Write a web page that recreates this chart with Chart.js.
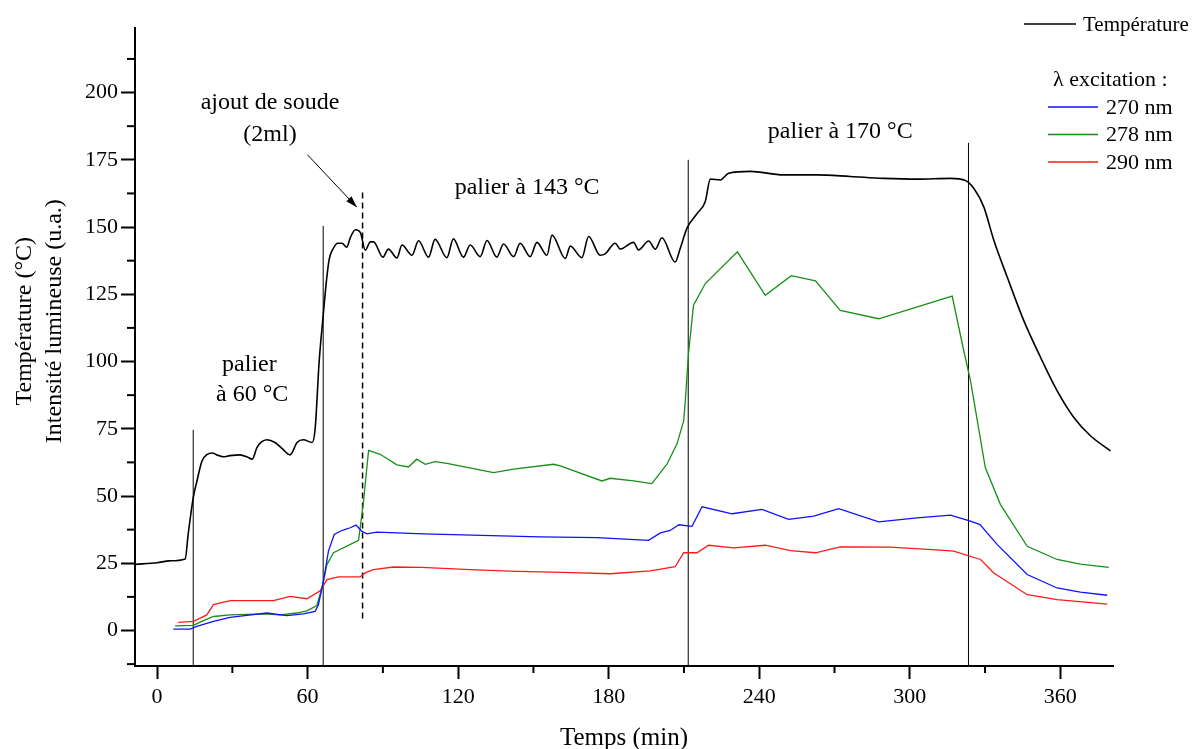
<!DOCTYPE html>
<html>
<head>
<meta charset="utf-8">
<script src="https://cdn.jsdelivr.net/npm/chart.js@4.4.1/dist/chart.umd.min.js"></script>
<style>
  html, body { margin: 0; background: #fff; }
</style>
</head>
<body>
<canvas id="chart" width="1200" height="749"></canvas>
<script>
// ticks
const xMajor = [0, 60, 120, 180, 240, 300, 360];
const xMinor = [30, 90, 150, 210, 270, 330];
const yMajor = [0, 25, 50, 75, 100, 125, 150, 175, 200];
const yMinor = [-12.5, 12.5, 37.5, 62.5, 87.5, 112.5, 137.5, 162.5, 187.5, 212.5];
const yTitle = ["Température (°C)", "Intensité lumineuse (u.a.)"];

// series: [time (min), value]
const temperature = [
  [-8.7, 24.6], [0, 25.2], [5, 25.9], [11.2, 26.6], [12.4, 35.8], [14.4, 49.3], [15.9, 55.6],
  [17.9, 63], [20, 65.5], [21.9, 66], [24, 65.2], [26.3, 64.6], [29, 65], [33, 65.3], [36, 64.5],
  [37.9, 63.7], [39.8, 68], [41.5, 70], [43.8, 70.9], [47, 69.9], [50, 67.5], [53, 65.3],
  [55.8, 69.9], [58.3, 70.9], [61.8, 69.9], [63, 75], [64.6, 100], [66.2, 117], [67.5, 130],
  [68.6, 138], [70.2, 142], [72, 144], [73.7, 144], [75.6, 142.5], [77, 146], [79, 149],
  [81, 148], [83, 141.4], [85, 144.5], [86.3, 144.5], [90, 138.8], [92.2, 141.8], [95.6, 138.5],
  [97.6, 143.3], [101.6, 139.5], [104.2, 144.9], [108.2, 138.8], [110.8, 145.4], [115.5, 138.6],
  [118.1, 145.6], [122.1, 138.8], [124.8, 143.3], [128.8, 139], [131.5, 145], [135.4, 138.8],
  [138.1, 143.7], [142.1, 139], [144.7, 144], [148.7, 139], [151.4, 144.3], [155.4, 139.5],
  [157.4, 147], [162.7, 138.3], [164.7, 142.9], [169.3, 138.6], [172, 146.5], [176.6, 139.5],
  [178.6, 140], [182.6, 144], [184.6, 141.8], [189.9, 144.3], [191.9, 141.5], [195.9, 144.8],
  [198.6, 141.8], [201.2, 146], [206.5, 137], [208.5, 142], [211.2, 149.6], [215.2, 155],
  [218.5, 159.5], [220.5, 167.8], [224.5, 167.5], [227.8, 170], [236.4, 170.7], [249.7, 169.4],
  [263, 169.4], [276.3, 168.8], [289.6, 168.1], [302.9, 167.8], [316.2, 168.1], [322.2, 167.3],
  [325.5, 164.4], [329.5, 157.5], [333.5, 145.1], [338.8, 131.5], [345.4, 115.3], [352.1, 101.6],
  [358.7, 89.2], [365.4, 79.2], [372, 72.4], [380, 66.8]
];
const nm270 = [
  [6.5, 0.5], [13.2, 0.5], [15.8, 1.5], [22.5, 3.4], [29.1, 4.9], [35.8, 5.6], [43.7, 6.5],
  [51.7, 5.5], [58.3, 6.2], [63, 7.1], [64.3, 9.6], [66.3, 18.3], [68.3, 29.5], [70.6, 35.7],
  [73, 36.9], [75, 37.6], [77, 38.2], [79.3, 39.2], [81.6, 36.9], [83.6, 35.9], [87.6, 36.6],
  [106.2, 35.9], [129.5, 35.4], [152.7, 34.8], [175.3, 34.5], [195.9, 33.5], [200.6, 36.3],
  [204.5, 37.2], [208, 39.3], [213.2, 38.7], [217.2, 46], [229.2, 43.4], [241.1, 45],
  [251.7, 41.3], [261.7, 42.5], [271.7, 45.3], [287.6, 40.4], [302.9, 41.9], [316.2, 42.9],
  [324.2, 40.7], [328, 39.4], [334.8, 32], [346.8, 20.8], [358.7, 15.8], [368, 14.3], [378.7, 13.1]
];
const nm278 = [
  [7.2, 1.7], [14.5, 1.9], [18, 3.5], [22.5, 5.2], [29.1, 5.8], [42.4, 6.2], [49, 5.8],
  [55.7, 6.5], [59.7, 7.3], [63.7, 9.3], [65.7, 15.8], [67.7, 24.5], [70.3, 28.9], [80.3, 33.5],
  [82.3, 48.1], [84.3, 67], [88.9, 65.5], [95.6, 61.6], [100.2, 60.8], [103.5, 63.7],
  [106.9, 61.8], [110.8, 62.8], [115.5, 62.1], [134.1, 58.7], [142.1, 60], [158, 61.8],
  [160.7, 61.2], [177.3, 55.6], [180.6, 56.6], [189.9, 55.6], [197.2, 54.6], [203.2, 61.8],
  [207.2, 69.3], [209.9, 78], [210.5, 85], [211.8, 102.9], [213.8, 120.9], [218.5, 129],
  [231.3, 140.8], [242.4, 124.6], [252.8, 131.9], [262.4, 130], [272.3, 119], [287.6, 115.9],
  [316.9, 124.3], [321.5, 104.1], [324.2, 92.9], [330.1, 60.6], [336.1, 46.9], [346.8, 31.3],
  [358.7, 26.4], [368, 24.7], [379.3, 23.5]
];
const nm290 = [
  [8.5, 3], [14.5, 3.4], [19.8, 5.8], [22.5, 9.6], [29.1, 11.1], [38.4, 11.1], [46.4, 11.1],
  [53, 12.7], [59.7, 11.8], [65, 14.8], [67.7, 18.9], [72.3, 19.9], [80.9, 19.9], [82.9, 21.4],
  [86.2, 22.6], [94.2, 23.6], [105.5, 23.5], [124.8, 22.6], [143.4, 22], [162, 21.6],
  [180.6, 21.1], [196.6, 22.2], [206.5, 23.7], [209.9, 28.9], [215.2, 28.9], [219.8, 31.7],
  [229.8, 30.7], [242.4, 31.7], [252.4, 29.7], [262.4, 28.9], [272.3, 31.1], [292.3, 31],
  [312.2, 29.9], [317.5, 29.5], [328.2, 26.4], [333.5, 21.4], [346.8, 13.3], [358.7, 11.5],
  [378.7, 9.8]
];

// vertical marker lines: [time, bottom, top]
const stepLines = [[14.4, -13.2, 74.6], [66.2, -13.2, 150.4], [211.7, -13.2, 175], [323.4, -13.2, 181.3]];
const sodaLine = [81.9, 4.5, 163.8];

const annotations = [
  { t: 45, v: 196.3, text: "ajout de soude" },
  { t: 45, v: 184.3, text: "(2ml)" },
  { t: 147.5, v: 164.6, text: "palier à 143 °C" },
  { t: 272.3, v: 185.4, text: "palier à 170 °C" },
  { t: 36.8, v: 98.8, text: "palier" },
  { t: 37.9, v: 87.8, text: "à 60 °C" }
];
const arrow = { from: [59.9, 176.9], to: [79.6, 157.4] };

const SERIF = "'Liberation Serif', 'Times New Roman', serif";
const toXY = (arr) => arr.map(([x, y]) => ({ x, y }));

const datasets = [
  { label: "Température", data: toXY(temperature), borderColor: "#000000", borderWidth: 1.6, cubicInterpolationMode: "monotone" },
  { label: "270 nm", data: toXY(nm270), borderColor: "#1010ff", borderWidth: 1.3 },
  { label: "278 nm", data: toXY(nm278), borderColor: "#178f17", borderWidth: 1.3 },
  { label: "290 nm", data: toXY(nm290), borderColor: "#ff1a1a", borderWidth: 1.3 }
];
stepLines.forEach(([t, lo, hi]) => {
  datasets.push({ label: "", data: [{ x: t, y: lo }, { x: t, y: hi }], borderColor: "#000", borderWidth: 1 });
});
datasets.push({ label: "", data: [{ x: sodaLine[0], y: sodaLine[1] }, { x: sodaLine[0], y: sodaLine[2] }],
  borderColor: "#000", borderWidth: 1.5, borderDash: [6, 4] });

const extras = {
  id: "extras",
  afterDraw(chart) {
    const { ctx, scales: { x, y } } = chart;
    ctx.save();
    // minor ticks
    ctx.strokeStyle = "#000";
    ctx.lineWidth = 2;
    xMinor.forEach((v) => {
      const px = x.getPixelForValue(v);
      ctx.beginPath(); ctx.moveTo(px, x.top); ctx.lineTo(px, x.top + 7); ctx.stroke();
    });
    yMinor.forEach((v) => {
      const py = y.getPixelForValue(v);
      ctx.beginPath(); ctx.moveTo(y.right, py); ctx.lineTo(y.right - 8, py); ctx.stroke();
    });
    // y axis title (two lines, centred a bit above the plot centre like the original)
    ctx.fillStyle = "#000";
    ctx.font = "24px " + SERIF;
    ctx.textAlign = "center";
    ctx.textBaseline = "middle";
    const cy = y.getPixelForValue(115);
    [25, 55].forEach((cx, i) => {
      ctx.save();
      ctx.translate(cx, cy);
      ctx.rotate(-Math.PI / 2);
      ctx.fillText(yTitle[i], 0, 0);
      ctx.restore();
    });
    // text annotations
    ctx.font = "24px " + SERIF;
    annotations.forEach((a) => ctx.fillText(a.text, x.getPixelForValue(a.t), y.getPixelForValue(a.v)));
    // arrow
    const x1 = x.getPixelForValue(arrow.from[0]), y1 = y.getPixelForValue(arrow.from[1]);
    const x2 = x.getPixelForValue(arrow.to[0]), y2 = y.getPixelForValue(arrow.to[1]);
    ctx.lineWidth = 1;
    ctx.beginPath(); ctx.moveTo(x1, y1); ctx.lineTo(x2, y2); ctx.stroke();
    const ang = Math.atan2(y2 - y1, x2 - x1);
    ctx.beginPath();
    ctx.moveTo(x2, y2);
    ctx.lineTo(x2 - 12 * Math.cos(ang - 0.3), y2 - 12 * Math.sin(ang - 0.3));
    ctx.lineTo(x2 - 12 * Math.cos(ang + 0.3), y2 - 12 * Math.sin(ang + 0.3));
    ctx.closePath(); ctx.fill();
    // legend
    const ds = chart.data.datasets;
    ctx.textAlign = "left";
    ctx.font = "21px " + SERIF;
    ctx.lineWidth = 1.3;
    ctx.strokeStyle = ds[0].borderColor;
    ctx.beginPath(); ctx.moveTo(1024, 24); ctx.lineTo(1076, 24); ctx.stroke();
    ctx.fillText(ds[0].label, 1083, 25);
    ctx.font = "22px " + SERIF;
    ctx.fillText("λ excitation :", 1053, 80);
    [1, 2, 3].forEach((i, k) => {
      const ly = 107 + k * 27.5;
      ctx.strokeStyle = ds[i].borderColor;
      ctx.beginPath(); ctx.moveTo(1048, ly); ctx.lineTo(1098, ly); ctx.stroke();
      ctx.fillText(ds[i].label, 1106, ly + 1);
    });
    ctx.restore();
  }
};

new Chart(document.getElementById("chart"), {
  type: "line",
  data: { datasets },
  plugins: [extras],
  options: {
    responsive: false,
    animation: false,
    events: [],
    elements: { point: { radius: 0 }, line: { tension: 0 } },
    layout: { padding: { top: 28, right: 87, left: 0, bottom: 0 } },
    plugins: { legend: { display: false }, tooltip: { enabled: false } },
    scales: {
      x: {
        type: "linear",
        min: -8.8,
        max: 381,
        afterBuildTicks: (s) => { s.ticks = xMajor.map((value) => ({ value })); },
        afterFit: (s) => { s.height = 83; },
        border: { color: "#000", width: 2 },
        grid: { drawOnChartArea: false, drawTicks: true, tickLength: 13, tickWidth: 2, tickColor: "#000" },
        ticks: { color: "#000", font: { family: SERIF, size: 22 }, padding: 5, maxRotation: 0 },
        title: { display: true, text: "Temps (min)", color: "#000", font: { family: SERIF, size: 25 }, padding: { top: 0, bottom: -4 } }
      },
      y: {
        min: -13.2,
        max: 224,
        afterBuildTicks: (s) => { s.ticks = yMajor.map((value) => ({ value })); },
        afterFit: (s) => { s.width = 135; },
        border: { color: "#000", width: 2 },
        grid: { drawOnChartArea: false, drawTicks: true, tickLength: 14, tickWidth: 2, tickColor: "#000" },
        ticks: { color: "#000", font: { family: SERIF, size: 22 }, padding: 3 }
      }
    }
  }
});
</script>
</body>
</html>
